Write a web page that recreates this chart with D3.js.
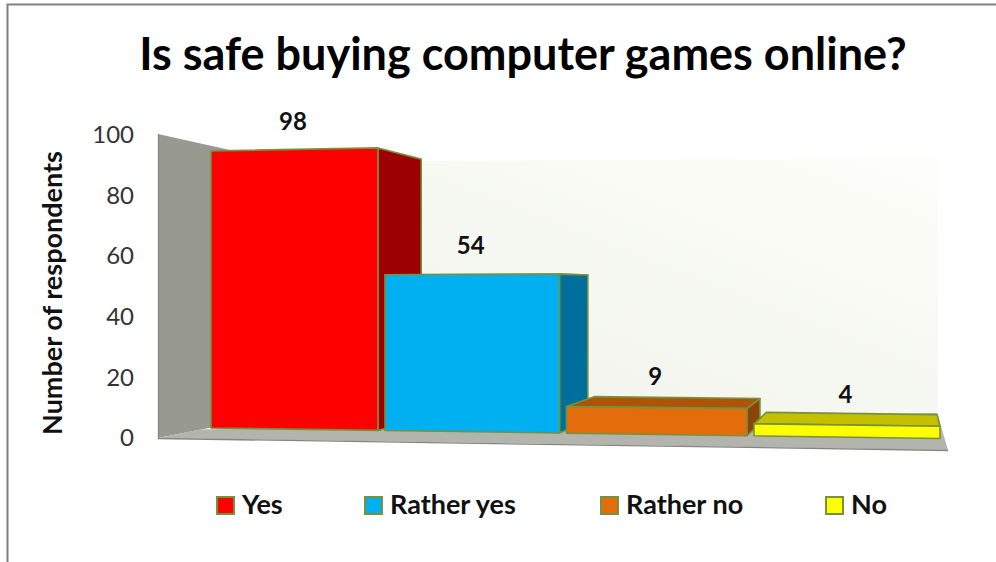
<!DOCTYPE html>
<html><head><meta charset="utf-8">
<script src="https://cdn.jsdelivr.net/npm/d3@7/dist/d3.min.js"></script>
<style>html,body{margin:0;padding:0;background:#fff}svg{display:block}text{font-family:Lato,"Open Sans",sans-serif}</style>
</head><body><svg id="c" width="996" height="562"></svg>
<script>
const categories = ["Yes", "Rather yes", "Rather no", "No"];
const values = [98, 54, 9, 4];
const axisTicks = [0, 20, 40, 60, 80, 100];
const frontColors = ["#ff0000", "#00b0f0", "#e46c0a", "#ffff00"];
const sideColors = ["#9c0000", "#006f9c", "#8f4306", "#c4c000"];
const topColors = ["#9c0000", "#006f9c", "#ae5408", "#c4c000"];
const legendX = [217, 365, 601, 826];
const labelGap = [19.5, 20, 23, 22];

const svg = d3.select("#c");
const Xv = 905, Yv = 285, K = 0.082;
const back = ([x, y]) => [x + K * (Xv - x), y + K * (Yv - y)];

const edge = d3.scaleLinear().domain([0, 1, 2, 3, 4]).range([207.5, 381.5, 563, 750.5, 943.5]);
const baseY = d3.scaleLinear().domain([211, 940]).range([428, 438.5]);
const perUnit = d3.scaleLinear().domain([211, 940]).range([2.827, 3.07]);
const axisY = d3.scaleLinear().domain([0, 100]).range([438, 135]);
const topY = (x, v) => baseY(x) - perUnit(x) * v;

// frame
svg.append("path").attr("d", "M7.5,562V4.5H996").attr("fill", "none").attr("stroke", "#808080").attr("stroke-width", 2);

const defs = svg.append("defs");
const g = defs.append("linearGradient").attr("id", "wall").attr("x1", 0).attr("y1", 1).attr("x2", 1).attr("y2", 0);
g.append("stop").attr("offset", 0).attr("stop-color", "#eff1ea");
g.append("stop").attr("offset", 1).attr("stop-color", "#fdfef9");

const poly = pts => "M" + pts.map(p => p.join(",")).join("L") + "Z";
const walls = svg.append("g");
walls.append("path").attr("d", poly([[280, 162], [938, 158], [938, 414], [280, 414]])).attr("fill", "url(#wall)");
walls.append("path").attr("d", poly([[158, 134], [280, 161], [280, 414], [158, 438]])).attr("fill", "#989a92");
walls.append("path").attr("d", poly([[158, 438], [200, 429.5], [937, 413], [948, 450]])).attr("fill", "#b2b4ad");
walls.append("path").attr("d", "M158.5,134V438.5L948,450.5").attr("fill", "none").attr("stroke", "#85867f").attr("stroke-width", 1.3);

// bars
const bars = svg.append("g").attr("stroke", "#76923c").attr("stroke-width", 1.6).attr("stroke-linejoin", "round");
categories.forEach((c, i) => {
  const x0 = edge(i) + 3.5, x1 = edge(i + 1) - 3.5, v = values[i];
  const tl = [x0, topY(x0, v)], tr = [x1, topY(x1, v)], bl = [x0, baseY(x0)], br = [x1, baseY(x1)];
  if (tr[1] > Yv - 12) bars.append("path").attr("d", poly([tl, tr, back(tr), back(tl)])).attr("fill", topColors[i]);
  if (x1 < Xv) bars.append("path").attr("d", poly([tr, back(tr), back(br), br])).attr("fill", sideColors[i]);
  bars.append("path").attr("d", poly([tl, tr, br, bl])).attr("fill", frontColors[i]);
});

// value labels
categories.forEach((c, i) => {
  const x0 = edge(i) + 3.5, x1 = edge(i + 1) - 3.5, cx = (x0 + x1) / 2;
  svg.append("text").attr("x", cx - 1.5)
    .attr("y", topY(cx, values[i]) - labelGap[i])
    .attr("text-anchor", "middle").attr("font-size", 24).attr("font-weight", 700).attr("fill", "#111").text(values[i]);
});

// axis
const ax = svg.append("g").attr("transform", "translate(134,0)")
  .call(d3.axisLeft(axisY).tickValues(axisTicks).tickSize(0).tickPadding(0));
ax.select(".domain").remove();
ax.selectAll("text").attr("font-family", "Lato").attr("font-size", 24).attr("fill", "#333");

svg.append("text").attr("transform", "translate(62,293) rotate(-90)").attr("text-anchor", "middle")
  .attr("font-size", 27).attr("font-weight", 700).attr("fill", "#111").text("Number of respondents");

svg.append("text").attr("x", 523).attr("y", 70).attr("text-anchor", "middle")
  .attr("font-size", 45).attr("font-weight", 700).attr("fill", "#000").text("Is safe buying computer games online?");

// legend
categories.forEach((c, i) => {
  svg.append("rect").attr("x", legendX[i]).attr("y", 497).attr("width", 17).attr("height", 17)
    .attr("fill", frontColors[i]).attr("stroke", "#76923c").attr("stroke-width", 2);
  svg.append("text").attr("x", legendX[i] + 25).attr("y", 514).attr("font-size", 27).attr("font-weight", 700).attr("fill", "#111").text(c);
});
</script></body></html>
